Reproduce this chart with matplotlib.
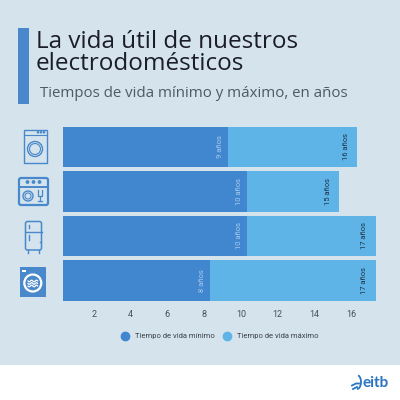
import numpy as np
import matplotlib
matplotlib.use('Agg')
import matplotlib.pyplot as plt
import matplotlib.patches as mpatches
from matplotlib.lines import Line2D
from matplotlib.transforms import ScaledTranslation

# Data: lifetime of household appliances (years)
appliances = ['Lavadora', 'Lavavajillas', 'Frigorífico', 'Secadora']
min_years = [9, 10, 10, 8]
max_years = [16, 15, 17, 17]
xticks = [2, 4, 6, 8, 10, 12, 14, 16]

BG = '#d4e3ec'
DARK = '#4187cf'
LIGHT = '#5eb4e6'
ICON = '#4a88cc'

plt.rcParams['font.family'] = ['Roboto', 'DejaVu Sans']

fig = plt.figure(figsize=(4, 4), dpi=100, facecolor=BG)

# overlay in pixel coordinates for decoration (title bar, icons, footer)
deco = fig.add_axes([0, 0, 1, 1], zorder=0)
deco.set_xlim(0, 400)
deco.set_ylim(400, 0)
deco.axis('off')
deco.add_patch(mpatches.Rectangle((0, 365), 400, 35, color='white', lw=0))
deco.add_patch(mpatches.Rectangle((18, 28), 11, 76, color=ICON, lw=0))

# washer
deco.add_patch(mpatches.Rectangle((23.5, 129.5), 23, 33.5, fill=False, ec=ICON, lw=1))
deco.plot([23.5, 46.5], [135, 135], color=ICON, lw=0.8)
deco.add_patch(mpatches.Circle((35, 149), 7.5, fill=False, ec=ICON, lw=1))
deco.add_patch(mpatches.Circle((35, 149), 5.5, fill=False, ec=ICON, lw=0.8))
for xx in [38, 41, 44]:
    deco.add_patch(mpatches.Circle((xx, 132.3), 0.6, color=ICON))
# dishwasher
deco.add_patch(mpatches.FancyBboxPatch((19, 178), 29, 27, boxstyle='round,pad=0,rounding_size=2',
                                       fill=False, ec=ICON, lw=1.6))
deco.plot([19, 48], [186.5, 186.5], color=ICON, lw=1.4)
for xx in [27.5, 33.5, 39.5]:
    deco.add_patch(mpatches.Circle((xx, 182), 1.2, color=ICON))
deco.add_patch(mpatches.Circle((28, 196), 5, fill=False, ec=ICON, lw=1))
deco.add_patch(mpatches.Circle((28, 196), 3, fill=False, ec=ICON, lw=0.8))
deco.plot([37.5, 37.5, 42, 42], [190, 196, 196, 190], color=ICON, lw=0.9)
deco.plot([39.7, 39.7], [196, 201], color=ICON, lw=0.9)
deco.plot([37.5, 42], [201, 201], color=ICON, lw=0.9)
# fridge
deco.add_patch(mpatches.FancyBboxPatch((25.5, 221.5), 16, 28.5, boxstyle='round,pad=0,rounding_size=2',
                                       fill=False, ec=ICON, lw=1.1))
deco.plot([25.5, 41.5], [232, 232], color=ICON, lw=1)
deco.plot([28.5, 28.5], [224.5, 228], color=ICON, lw=1)
deco.plot([28.5, 28.5], [235, 240], color=ICON, lw=1)
deco.plot([39.5, 41], [242, 242], color=ICON, lw=1)
deco.plot([28, 28], [250, 252.5], color=ICON, lw=1)
deco.plot([39, 39], [250, 252.5], color=ICON, lw=1)
# dryer
deco.add_patch(mpatches.Rectangle((19.5, 267), 26.5, 30, color=ICON, lw=0))
deco.add_patch(mpatches.Rectangle((22, 270), 4, 1.8, color='white', lw=0))
deco.add_patch(mpatches.Circle((32.8, 283), 8.5, fill=False, ec='white', lw=1.6))
wx = np.linspace(28, 37.5, 20)
for dy in [-2, 0.5, 3]:
    deco.plot(wx, 283 + dy + 0.8 * np.sin((wx - 28) * 1.3), color='white', lw=0.9)

# logo
deco.text(389, 383, 'eitb', color='#2a74c2', fontsize=11, fontweight='bold',
          ha='right', va='center', family=['Lato', 'DejaVu Sans'])
deco.plot([352, 356, 359], [385.5, 383.5, 383.5], color='#2a74c2', lw=1.3)
deco.plot([353, 357], [389, 387], color='#2a74c2', lw=1.3)
deco.add_patch(mpatches.Arc((357, 382), 8, 14, theta1=-80, theta2=90, ec='#2a74c2', lw=1.3))

# titles
tfont = ['Open Sans', 'DejaVu Sans']
deco.text(36, 48, 'La vida útil de nuestros', fontsize=17.5, color='#1c1d2b',
          va='baseline', ha='left', family=tfont)
deco.text(36, 70.5, 'electrodomésticos', fontsize=17.5, color='#1c1d2b',
          va='baseline', ha='left', family=tfont)
deco.text(40, 97, 'Tiempos de vida mínimo y máximo, en años', fontsize=10.8,
          color='#4f5a63', va='baseline', ha='left', family=tfont)

# bars
ax = fig.add_axes([63 / 400, 1 - 302.75 / 400, 321.8 / 400, 178 / 400], zorder=2)
ax.set_facecolor('none')
y = np.arange(len(appliances))
diff = [mx - mn for mn, mx in zip(min_years, max_years)]
ax.barh(y, min_years, height=0.9, color=DARK, label='Tiempo de vida mínimo')
ax.barh(y, diff, left=min_years, height=0.9, color=LIGHT, label='Tiempo de vida máximo')

for yi, mn, mx in zip(y, min_years, max_years):
    ax.annotate(f'{mn} años', (mn, yi), xytext=(-6, 0), textcoords='offset points',
                rotation=90, ha='center', va='center', fontsize=5.5, color='#a9cbee')
    ax.annotate(f'{mx} años', (mx, yi), xytext=(-8, 0), textcoords='offset points',
                rotation=90, ha='center', va='center', fontsize=5.5, color='#1f3047')

ax.set_xlim(0, 17.5)
ax.set_ylim(3.5, -0.5)
ax.set_xticks(xticks)
ax.set_xticklabels([str(t) for t in xticks])
ax.set_yticks([])
ax.tick_params(axis='x', length=0, pad=5, labelsize=6.5, labelcolor='#4a4f55')
for lbl in ax.get_xticklabels():
    lbl.set_transform(lbl.get_transform() + ScaledTranslation(-6 / 100, 0, fig.dpi_scale_trans))
for s in ax.spines.values():
    s.set_visible(False)

handles = [Line2D([], [], marker='o', ls='', color=DARK, markersize=6),
           Line2D([], [], marker='o', ls='', color=LIGHT, markersize=6)]
fig.legend(handles, ['Tiempo de vida mínimo', 'Tiempo de vida máximo'],
           loc='center', bbox_to_anchor=(218 / 400, 1 - 336 / 400), ncol=2, frameon=False,
           fontsize=5.5, handletextpad=0.3, columnspacing=0.6, labelcolor='#3c4248')

fig.savefig('out.png', dpi=100, facecolor=BG)
